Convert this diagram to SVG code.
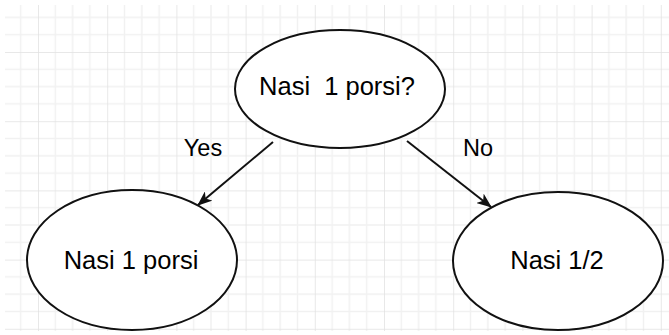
<svg xmlns="http://www.w3.org/2000/svg" width="669" height="335" viewBox="0 0 669 335">
  <style>
    .node ellipse { fill: #ffffff; stroke: #111111; stroke-width: 2; }
    .node text { font-family: "Liberation Sans", Arial, Helvetica, sans-serif; font-size: 25.5px; fill: #000000; text-anchor: middle; }
    .edge line { stroke: #111111; stroke-width: 2; fill: none; }
    .edge text { font-family: "Liberation Sans", Arial, Helvetica, sans-serif; font-size: 23.5px; fill: #000000; text-anchor: middle; }
  </style>
  <defs>
    <!-- background grid: 4 minor cells per major cell -->
    <pattern id="grid" patternUnits="userSpaceOnUse" x="38" y="52" width="69.2" height="69.2">
      <g stroke="#f1f1f1" stroke-width="1.5">
        <line x1="17.3" y1="0" x2="17.3" y2="69.2"/>
        <line x1="34.6" y1="0" x2="34.6" y2="69.2"/>
        <line x1="51.9" y1="0" x2="51.9" y2="69.2"/>
        <line x1="0" y1="17.3" x2="69.2" y2="17.3"/>
        <line x1="0" y1="34.6" x2="69.2" y2="34.6"/>
        <line x1="0" y1="51.9" x2="69.2" y2="51.9"/>
      </g>
      <g stroke="#e1e1e1" stroke-width="1.5">
        <line x1="0" y1="0" x2="0" y2="69.2"/>
        <line x1="0" y1="0" x2="69.2" y2="0"/>
      </g>
    </pattern>
    <marker id="arrow" markerUnits="userSpaceOnUse" viewBox="0 0 15 12" markerWidth="15" markerHeight="12" refX="14" refY="6" orient="auto">
      <path d="M0,0 L15,6 L0,12 L4,6 Z" fill="#111111"/>
    </marker>
  </defs>

  <rect x="0" y="0" width="669" height="335" fill="#ffffff"/>
  <rect x="5" y="5" width="664" height="326" fill="url(#grid)"/>

  <g id="connectors" class="edge">
    <line x1="273" y1="142" x2="198" y2="205" marker-end="url(#arrow)"/>
    <text x="203" y="156">Yes</text>
    <line x1="407" y1="141" x2="491" y2="207" marker-end="url(#arrow)"/>
    <text x="478" y="156">No</text>
  </g>

  <g id="node-question" class="node">
    <ellipse cx="340" cy="89" rx="105" ry="59"/>
    <text x="337" y="95" xml:space="preserve" style="white-space:pre">Nasi  1 porsi?</text>
  </g>

  <g id="node-yes" class="node">
    <ellipse cx="132" cy="260" rx="105" ry="70"/>
    <text x="131" y="269">Nasi 1 porsi</text>
  </g>

  <g id="node-no" class="node">
    <ellipse cx="558" cy="261" rx="105" ry="69"/>
    <text x="557" y="269">Nasi 1/2</text>
  </g>
</svg>
